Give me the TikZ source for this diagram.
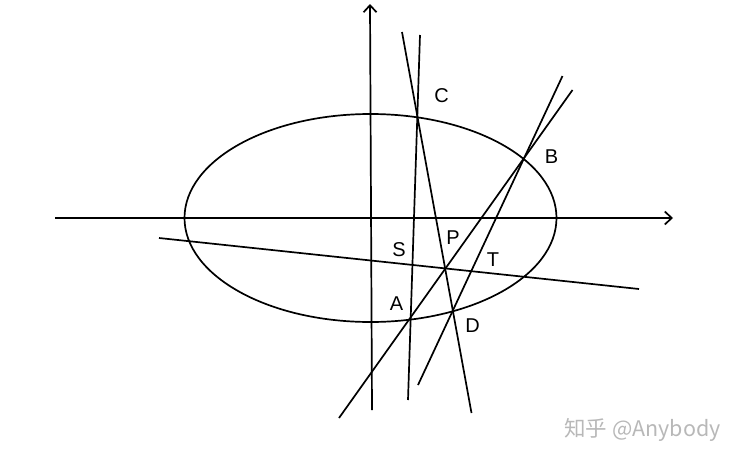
\documentclass[tikz,border=0pt]{standalone}
\usepackage{fontspec}
\setmainfont{Liberation Sans}
\newfontfamily\cjk{Noto Sans CJK SC}
\usetikzlibrary{arrows.meta}

\begin{document}
\begin{tikzpicture}[x=1pt, y=-1pt, line width=1.7pt,
  lbl/.style={font=\fontsize{20}{20}\selectfont, inner sep=0pt, text depth=0pt},
  axis/.style={-{Straight Barb[length=7pt, width=13pt, line width=1.7pt]}}]
  \useasboundingbox (0,0) rectangle (740,461);

  % axes
  \coordinate (xl) at (55,218);
  \coordinate (xr) at (673,218);
  \coordinate (yb) at (372,410);
  \coordinate (yt) at (370,4);
  \draw[axis] (xl) -- (xr);
  \draw[axis] (yb) -- (yt);

  \draw (370.5,218) ellipse [x radius=186, y radius=104];

  % chords
  \coordinate (c1) at (402,32);
  \coordinate (d1) at (471.5,413);
  \coordinate (c2) at (420,35);
  \coordinate (a2) at (408,400);
  \coordinate (b3) at (572.5,90);
  \coordinate (a3) at (339,418);
  \coordinate (b4) at (562.5,76);
  \coordinate (d4) at (418,385);
  \coordinate (s5) at (159,238);
  \coordinate (t5) at (639,289);
  \draw (c1) -- (d1);
  \draw (c2) -- (a2);
  \draw (b3) -- (a3);
  \draw (b4) -- (d4);
  \draw (s5) -- (t5);

  % labels
  \node[lbl] (C) at (441.5,96) {C};
  \node[lbl] (B) at (551.5,157) {B};
  \node[lbl] (S) at (399,250) {S};
  \node[lbl] (P) at (453,238) {P};
  \node[lbl] (T) at (493,259.5) {T};
  \node[lbl] (A) at (396.5,304) {A};
  \node[lbl] (D) at (472.5,326) {D};

  \node (mark) at (642.5,430) {\color{black!28}\cjk\fontsize{21.5}{21.5}\selectfont 知乎 @Anybody};
\end{tikzpicture}
\end{document}
